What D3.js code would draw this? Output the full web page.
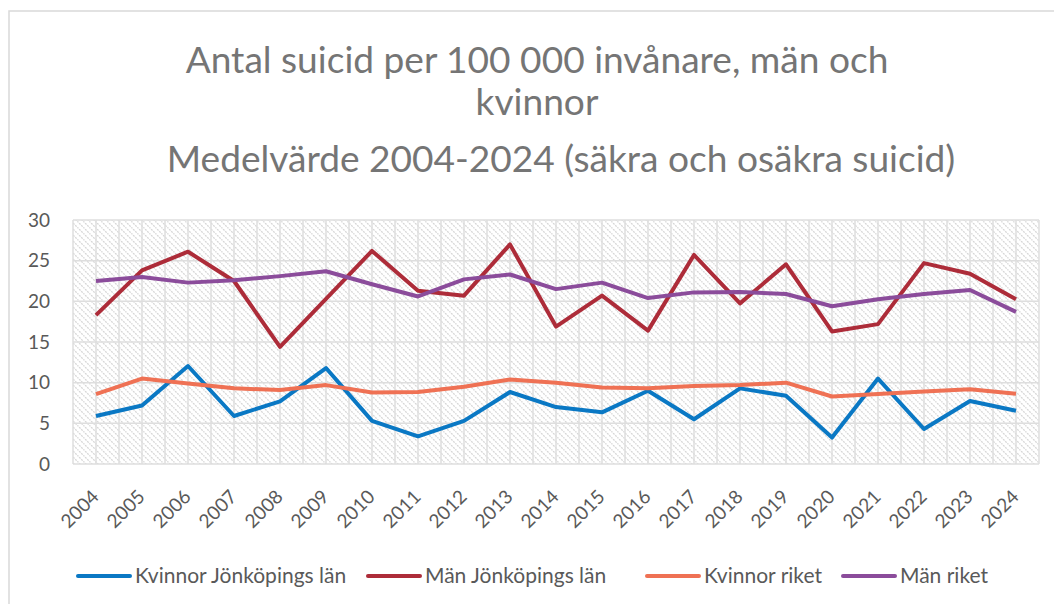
<!DOCTYPE html>
<html lang="sv">
<head>
<meta charset="UTF-8">
<title>Antal suicid per 100 000 invånare</title>
<script src="https://cdn.jsdelivr.net/npm/d3@7"></script>
<style>
    body { margin: 0; background: #fff; }
    svg { display: block; font-family: Lato, "Open Sans", sans-serif; }
</style>
</head>
<body>
<svg width="1054" height="604"></svg>
<script>
// data
const years = ["2004","2005","2006","2007","2008","2009","2010","2011","2012","2013","2014",
               "2015","2016","2017","2018","2019","2020","2021","2022","2023","2024"];
const kvinnorJkpg = [5.9, 7.2, 12.05, 5.9, 7.7, 11.8, 5.3, 3.4, 5.3, 8.85, 7.0,
                     6.35, 9.0, 5.5, 9.3, 8.4, 3.25, 10.5, 4.3, 7.75, 6.55];
const manJkpg     = [18.3, 23.8, 26.1, 22.5, 14.4, 20.3, 26.2, 21.3, 20.7, 27.0, 16.9,
                     20.7, 16.4, 25.7, 19.75, 24.55, 16.3, 17.2, 24.7, 23.4, 20.25];
const kvinnorRiket = [8.6, 10.5, 9.9, 9.3, 9.1, 9.7, 8.8, 8.85, 9.5, 10.4, 10.0,
                      9.4, 9.3, 9.6, 9.7, 10.0, 8.3, 8.6, 8.9, 9.2, 8.65];
const manRiket    = [22.5, 23.0, 22.3, 22.6, 23.1, 23.7, 22.1, 20.6, 22.7, 23.3, 21.5,
                     22.3, 20.4, 21.1, 21.15, 20.9, 19.4, 20.25, 20.9, 21.4, 18.7];
const yTicks = [0, 5, 10, 15, 20, 25, 30];
const titleLines = ["Antal suicid per 100 000 invånare, män och", "kvinnor",
                    "Medelvärde 2004-2024 (säkra och osäkra suicid)"];

const series = [
    {name: "Kvinnor Jönköpings län", values: kvinnorJkpg, color: "#0a78c4"},
    {name: "Män Jönköpings län", values: manJkpg, color: "#ad2c39"},
    {name: "Kvinnor riket", values: kvinnorRiket, color: "#ef7154"},
    {name: "Män riket", values: manRiket, color: "#8b4c9b"}
];

const svg = d3.select("svg");
const plot = {left: 73, right: 1039, top: 220, bottom: 464};

// outer chart frame
svg.append("rect")
    .attr("x", 9).attr("y", 11).attr("width", 1100).attr("height", 700)
    .attr("fill", "#fff").attr("stroke", "#d9d9d9").attr("stroke-width", 1.5);

// title
const titleY = [73, 115, 172];
const titleX = [537, 537, 561];
const title = svg.append("g").attr("fill", "#757575").attr("text-anchor", "middle");
titleLines.forEach((t, i) => {
    title.append("text")
        .attr("x", titleX[i]).attr("y", titleY[i])
        .attr("font-size", 36).text(t);
});
// fit the font to the widths of line 1 and 3
const tn = title.selectAll("text").nodes();
const fs = 36 * (725 + 767) / (tn[0].getComputedTextLength() + tn[2].getComputedTextLength());
title.selectAll("text").attr("font-size", fs);

const x = d3.scaleBand().domain(years).range([plot.left, plot.right]);
const y = d3.scaleLinear().domain([0, 30]).range([plot.bottom, plot.top]);
const cx = d => x(d) + x.bandwidth() / 2;

// hatched background
const defs = svg.append("defs");
const pat = defs.append("pattern")
    .attr("id", "hatch").attr("patternUnits", "userSpaceOnUse")
    .attr("width", 6).attr("height", 6);
pat.append("rect").attr("width", 6).attr("height", 6).attr("fill", "#fff");
pat.append("path")
    .attr("d", "M-1,-1 L7,7 M-1,5 L1,7 M5,-1 L7,1")
    .attr("stroke", "#d6d6d6").attr("stroke-width", 1.3)
    .attr("stroke-dasharray", "2,1");

svg.append("rect")
    .attr("x", plot.left).attr("y", plot.top)
    .attr("width", plot.right - plot.left).attr("height", plot.bottom - plot.top)
    .attr("fill", "url(#hatch)");

// gridlines
const grid = svg.append("g").attr("stroke", "#dedede").attr("stroke-width", 1.5);
const vLines = [];
years.forEach(d => { vLines.push(x(d)); vLines.push(cx(d)); });
vLines.push(plot.right);
grid.selectAll("line.v").data(vLines).join("line")
    .attr("class", "v")
    .attr("x1", d => d).attr("x2", d => d)
    .attr("y1", plot.top).attr("y2", plot.bottom);
grid.selectAll("line.h").data(yTicks).join("line")
    .attr("class", "h")
    .attr("x1", plot.left).attr("x2", plot.right)
    .attr("y1", d => y(d)).attr("y2", d => y(d));

// y axis labels
const yAxis = svg.append("g")
    .attr("transform", `translate(${plot.left},0)`)
    .call(d3.axisLeft(y).tickValues(yTicks).tickSize(0).tickPadding(23));
yAxis.select(".domain").remove();
yAxis.selectAll("text").attr("fill", "#595959").attr("font-size", 19)
    .attr("font-family", "Lato, sans-serif");

// x axis labels, rotated
const xAxis = svg.append("g")
    .attr("transform", `translate(0,${plot.bottom})`)
    .call(d3.axisBottom(x).tickSize(0).tickPadding(0));
xAxis.select(".domain").remove();
xAxis.selectAll("text")
    .attr("fill", "#595959").attr("font-size", 19)
    .attr("font-family", "Lato, sans-serif")
    .attr("text-anchor", "end").attr("dy", 0).attr("y", 0)
    .attr("transform", "translate(4,34) rotate(-45)");

// lines
const line = d3.line().x((v, i) => cx(years[i])).y(v => y(v));
svg.append("g").selectAll("path").data(series).join("path")
    .attr("d", d => line(d.values))
    .attr("fill", "none")
    .attr("stroke", d => d.color)
    .attr("stroke-width", 4)
    .attr("stroke-linejoin", "round");

// legend, item starts as in the original layout
const legendX = [78, 368, 647, 843];
const legend = svg.append("g").attr("transform", "translate(0,576)");
const item = legend.selectAll("g").data(series).join("g")
    .attr("transform", (d, i) => `translate(${legendX[i]},0)`);
item.append("line")
    .attr("x1", 0).attr("x2", 52)
    .attr("stroke", d => d.color).attr("stroke-width", 4).attr("stroke-linecap", "round");
item.append("text")
    .attr("x", 57).attr("y", 7)
    .attr("fill", "#595959").attr("font-size", 21)
    .text(d => d.name);
</script>
</body>
</html>
